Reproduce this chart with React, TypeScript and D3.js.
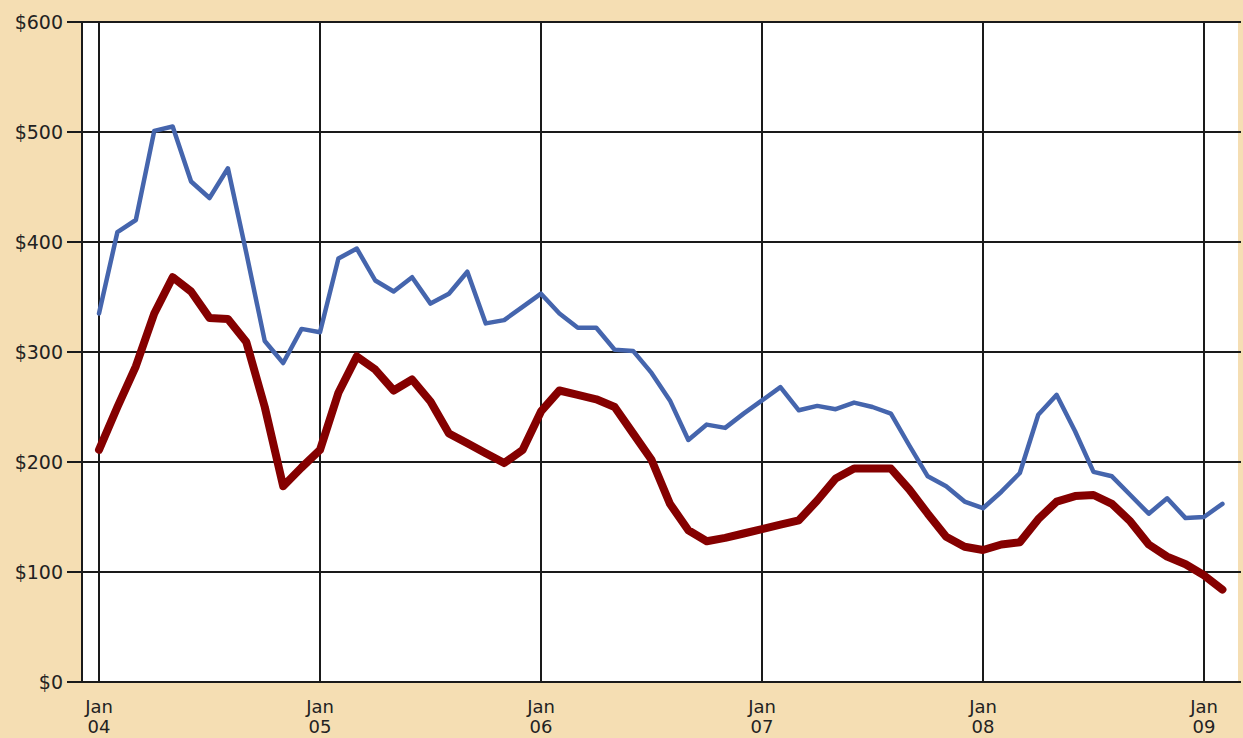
import React from "react";
import * as d3 from "d3";

const yearLabels = ["04", "05", "06", "07", "08", "09"];
const yTicks = [0, 100, 200, 300, 400, 500, 600];

const blueValues = [
  335, 409, 420, 501, 505, 455, 440, 467, 390, 310, 290, 321,
  318, 385, 394, 365, 355, 368, 344, 353, 373, 326, 329, 341,
  353, 335, 322, 322, 302, 301, 281, 256, 220, 234, 231, 244,
  256, 268, 247, 251, 248, 254, 250, 244, 215, 187, 178, 164,
  158, 173, 190, 243, 261, 228, 191, 187, 170, 153, 167, 149,
  150, 162,
];

const redValues = [
  211, 250, 287, 335, 368, 355, 331, 330, 309, 250, 178, 195,
  211, 263, 296, 284, 265, 275, 255, 226, 217, 208, 199, 211,
  246, 265, 261, 257, 250, 226, 202, 162, 138, 128, 131, 135,
  139, 143, 147, 165, 185, 194, 194, 194, 175, 153, 132, 123,
  120, 125, 127, 148, 164, 169, 170, 162, 146, 125, 114, 107,
  97, 84,
];

const W = 1243;
const H = 738;
const plotLeft = 82;
const plotRight = 1238;
const plotTop = 22;
const plotBottom = 682;

export default function App() {
  const x = d3.scaleLinear().domain([0, 60]).range([99, 1204]);
  const y = d3.scaleLinear().domain([0, 600]).range([plotBottom, plotTop]);
  const line = d3
    .line<number>()
    .x((_, i) => x(i))
    .y((d) => y(d));

  const font = "'DejaVu Sans', Verdana, sans-serif";
  const textColor = "#222222";

  return (
    <svg
      width={W}
      height={H}
      style={{ position: "absolute", left: 0, top: 0, display: "block" }}
    >
      <rect x={0} y={0} width={W} height={H} fill="#f5deb3" />
      <rect
        x={plotLeft}
        y={plotTop}
        width={plotRight - plotLeft}
        height={plotBottom - plotTop}
        fill="#ffffff"
      />
      {yTicks.map((t) => (
        <g key={"y" + t}>
          <line
            x1={67}
            x2={W - 2}
            y1={y(t)}
            y2={y(t)}
            stroke="#1a1a1a"
            strokeWidth={2}
          />
          <text
            x={63}
            y={y(t)}
            dy="0.36em"
            textAnchor="end"
            fontFamily={font}
            fontSize={19}
            fill={textColor}
          >
            {"$" + t}
          </text>
        </g>
      ))}
      <line
        x1={plotLeft}
        x2={plotLeft}
        y1={plotTop}
        y2={plotBottom}
        stroke="#1a1a1a"
        strokeWidth={2}
      />
      {yearLabels.map((yl, i) => (
        <g key={"x" + yl}>
          <line
            x1={x(i * 12)}
            x2={x(i * 12)}
            y1={plotTop}
            y2={plotBottom}
            stroke="#1a1a1a"
            strokeWidth={2}
          />
          <text
            x={x(i * 12)}
            y={713}
            textAnchor="middle"
            fontFamily={font}
            fontSize={18}
            fill={textColor}
          >
            Jan
          </text>
          <text
            x={x(i * 12)}
            y={733}
            textAnchor="middle"
            fontFamily={font}
            fontSize={18}
            fill={textColor}
          >
            {yl}
          </text>
        </g>
      ))}
      <path
        d={line(blueValues) || ""}
        fill="none"
        stroke="#4565ad"
        strokeWidth={4.5}
        strokeLinejoin="round"
        strokeLinecap="round"
      />
      <path
        d={line(redValues) || ""}
        fill="none"
        stroke="#850000"
        strokeWidth={8}
        strokeLinejoin="round"
        strokeLinecap="round"
      />
    </svg>
  );
}
